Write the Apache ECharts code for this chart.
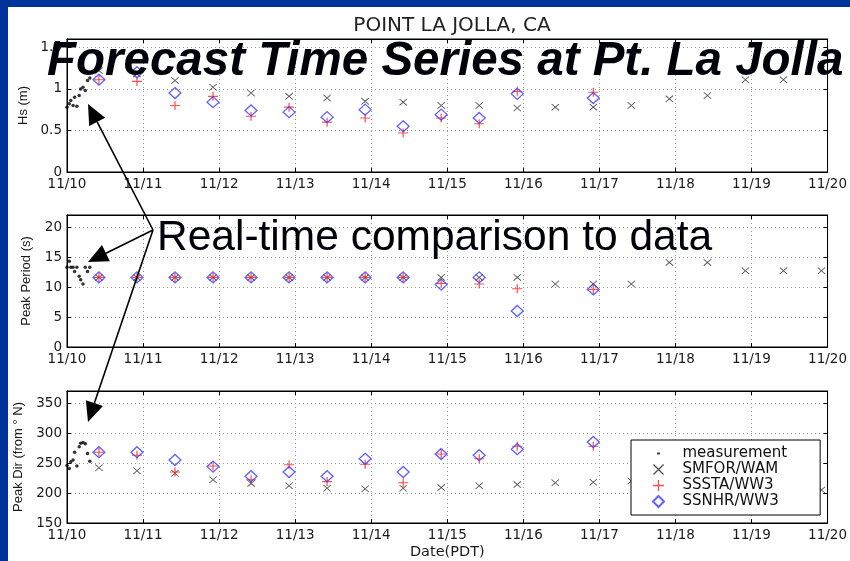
<!DOCTYPE html>
<html><head><meta charset="utf-8">
<script src="https://cdn.jsdelivr.net/npm/echarts@6/dist/echarts.min.js"></script>
<style>html,body{margin:0;padding:0;background:#fff}#c{width:850px;height:561px}</style>
</head><body><div id="c"></div>
<script>
// ---- data ----
const xTickLabels = ['11/10','11/11','11/12','11/13','11/14','11/15','11/16','11/17','11/18','11/19','11/20'];
// days after 11/10 00:00 PDT
const measDays = [0.00,0.03,0.05,0.08,0.10,0.13,0.16,0.18,0.21,0.24,0.27,0.30];
const measHs   = [0.78,0.82,0.86,0.80,0.90,0.79,0.92,1.00,1.02,0.98,1.10,1.13];
const measTp   = [13.3,14.3,13.3,13.3,12.6,13.3,11.8,11.2,10.5,13.3,12.6,13.3];
const measDir  = [246,241,252,255,268,245,277,283,284,282,266,253];

const modelDays = [0.42,0.92,1.42,1.92,2.42,2.92,3.42,3.92,4.42,4.92,5.42,5.92,6.42,6.92,7.42,7.92,8.42,8.92,9.42,9.92];

const smforHs = [1.22,1.18,1.10,1.02,0.95,0.91,0.89,0.85,0.84,0.80,0.80,0.77,0.78,0.78,0.80,0.88,0.92,1.11,1.11,1.30];
const ssstaHs = [1.11,1.09,0.80,0.91,0.67,0.78,0.60,0.65,0.47,0.65,0.58,0.97,null,0.96,null,null,null,null,null,null];
const ssnhrHs = [1.11,1.20,0.95,0.84,0.74,0.72,0.66,0.75,0.55,0.69,0.65,0.94,null,0.89,null,null,null,null,null,null];

const smforTp = [11.6,11.6,11.6,11.6,11.6,11.6,11.6,11.6,11.6,11.6,11.6,11.6,10.5,10.5,10.5,14.1,14.1,12.7,12.7,12.7];
const ssstaTp = [11.6,11.6,11.6,11.6,11.6,11.6,11.6,11.6,11.6,10.6,10.5,9.7,null,9.6,null,null,null,null,null,null];
const ssnhrTp = [11.6,11.6,11.6,11.6,11.6,11.6,11.6,11.6,11.6,10.4,11.6,6.0,null,9.6,null,null,null,null,null,null];

const smforDir = [242,237,233,222,216,212,208,207,208,209,212,214,217,218,220,218,215,210,207,205];
const ssstaDir = [268,263,235,245,222,247,219,248,217,265,257,278,null,278,null,null,null,null,null,null];
const ssnhrDir = [268,268,255,244,228,235,228,257,235,265,263,273,null,285,null,null,null,null,null,null];

const seriesNames = ['measurement','SMFOR/WAM','SSSTA/WW3','SSNHR/WW3'];
const panelNames = ['Hs (m)','Peak Period (s)','Peak Dir (from \u00b0 N)'];

// ---- build ----
const chart = echarts.init(document.getElementById('c'), null, {renderer:'canvas'});
function pts(days, vals){ const o=[]; for(let k=0;k<days.length;k++){ if(vals[k]!=null) o.push([days[k],vals[k]]); } return o; }

const CROSS = 'path://M0,0.8L0.8,0L10,9.2L9.2,10Z M9.2,0L10,0.8L0.8,10L0,9.2Z';
const PLUS  = 'path://M0,4.4L10,4.4L10,5.6L0,5.6Z M4.4,0L5.6,0L5.6,10L4.4,10Z';
const DIAM  = 'path://M5,0L10,5L5,10L0,5Z';
const DOT   = 'path://M0,0L0.05,0L0,0.05Z M20,20L19.95,20L20,19.95Z M7.5,8L12.5,8L12.5,12L7.5,12Z';

const grids = [
  {left:67, top:39, width:762, height:133},
  {left:67, top:215, width:762, height:132},
  {left:67, top:391, width:762, height:132}
];
const yCfg = [
  {min:0, max:1.6, interval:0.5, gap:34},
  {min:0, max:22, interval:5, gap:34},
  {min:150, max:370, interval:50, gap:42}
];
const tickFont = {fontFamily:'DejaVu Sans', fontSize:13.5, color:'#1a1a1a'};
const gridLine = {show:true, lineStyle:{color:'#9a9a9a', type:[1,3], width:1}};

const xAxes = [], yAxes = [];
for (let i=0;i<3;i++){
  xAxes.push({type:'value', gridIndex:i, min:0, max:10, interval:1, position:'bottom',
    axisLine:{show:true, onZero:false, lineStyle:{color:'#000'}},
    axisTick:{show:true, inside:true, length:4, lineStyle:{color:'#000'}},
    axisLabel:Object.assign({margin:5, formatter:v=>xTickLabels[Math.round(v)]}, tickFont),
    splitLine:gridLine,
    name: i===2 ? 'Date(PDT)' : '', nameLocation:'middle', nameGap:22,
    nameTextStyle:{fontFamily:'DejaVu Sans', fontSize:14.5, color:'#1a1a1a'}
  });
  yAxes.push({type:'value', gridIndex:i, min:yCfg[i].min, max:yCfg[i].max, interval:yCfg[i].interval, position:'left',
    axisLine:{show:true, onZero:false, lineStyle:{color:'#000'}},
    axisTick:{show:true, inside:true, length:4, lineStyle:{color:'#000'}},
    axisLabel:Object.assign({margin:5, showMaxLabel:false}, tickFont),
    splitLine:gridLine,
    name:panelNames[i], nameLocation:'middle', nameRotate:90, nameGap:yCfg[i].gap,
    nameTextStyle:{fontFamily:'Liberation Sans', fontSize:13, color:'#1a1a1a'}
  });
}
for (let i=0;i<3;i++){
  xAxes.push({type:'value', gridIndex:i, min:0, max:10, interval:1, position:'top',
    axisLine:{show:true, onZero:false, lineStyle:{color:'#000'}},
    axisTick:{show:true, inside:true, length:4, lineStyle:{color:'#000'}},
    axisLabel:{show:false}, splitLine:{show:false}});
  yAxes.push({type:'value', gridIndex:i, min:yCfg[i].min, max:yCfg[i].max, interval:yCfg[i].interval, position:'right',
    axisLine:{show:true, onZero:false, lineStyle:{color:'#000'}},
    axisTick:{show:true, inside:true, length:4, lineStyle:{color:'#000'}},
    axisLabel:{show:false}, splitLine:{show:false}});
}

const panels = [
  [measHs, smforHs, ssstaHs, ssnhrHs],
  [measTp, smforTp, ssstaTp, ssnhrTp],
  [measDir, smforDir, ssstaDir, ssnhrDir]
];
const series = [];
for (let i=0;i<3;i++){
  const p = panels[i];
  series.push({name:seriesNames[0], type:'scatter', xAxisIndex:i, yAxisIndex:i, data:pts(measDays,p[0]),
    symbol:'circle', symbolSize:3.5, itemStyle:{color:'#000'}, z:2});
  series.push({name:seriesNames[1], type:'scatter', xAxisIndex:i, yAxisIndex:i, data:pts(modelDays,p[1]),
    symbol:CROSS, symbolSize:[8,7], itemStyle:{color:'#222'}, z:3});
  series.push({name:seriesNames[2], type:'scatter', xAxisIndex:i, yAxisIndex:i, data:pts(modelDays,p[2]),
    symbol:PLUS, symbolSize:[10,9], itemStyle:{color:'#ff2020'}, z:4});
  series.push({name:seriesNames[3], type:'scatter', xAxisIndex:i, yAxisIndex:i, data:pts(modelDays,p[3]),
    symbol:DIAM, symbolSize:[12,11], itemStyle:{color:'rgba(255,255,255,0)', borderColor:'#3a3aff', borderWidth:1.3}, z:5});
}

function arrow(ox, oy, tx, ty){
  const dx=tx-ox, dy=ty-oy, L=Math.sqrt(dx*dx+dy*dy), ux=dx/L, uy=dy/L, nx=-uy, ny=ux;
  const bx=tx-ux*20, by=ty-uy*20, w=9;
  return [
    {type:'line', shape:{x1:ox,y1:oy,x2:bx,y2:by}, style:{stroke:'#000', lineWidth:1.6}, z:100},
    {type:'polygon', shape:{points:[[tx,ty],[bx+nx*w,by+ny*w],[bx-nx*w,by-ny*w]]}, style:{fill:'#000'}, z:100}
  ];
}

const graphics = [
  {type:'rect', shape:{x:0,y:0,width:8,height:561}, style:{fill:'#003399'}, z:200},
  {type:'rect', shape:{x:0,y:0,width:850,height:7}, style:{fill:'#003399'}, z:200},
  {type:'text', x:47, y:62, style:{text:'Forecast Time Series at Pt. La Jolla', font:'italic bold 47.5px "Liberation Sans"', fill:'#000008', verticalAlign:'middle'}, z:110},
  {type:'text', x:157, y:238, style:{text:'Real-time comparison to data', font:'42.5px "Liberation Sans"', fill:'#000008', verticalAlign:'middle'}, z:110}
].concat(arrow(153,230,88,104), arrow(153,230,88,262), arrow(153,230,88,422));

chart.setOption({
  animation:false,
  backgroundColor:'#fff',
  title:{text:'POINT LA JOLLA, CA', left:447, top:11, textAlign:'center',
    textStyle:{fontFamily:'DejaVu Sans', fontSize:20, fontWeight:'normal', color:'#222'}},
  grid:grids.map(g=>Object.assign({show:true, borderColor:'#000', borderWidth:1, backgroundColor:'#fff'}, g)),
  xAxis:xAxes, yAxis:yAxes,
  legend:{
    data:[{name:'measurement', icon:DOT}, 'SMFOR/WAM', 'SSSTA/WW3', 'SSNHR/WW3'],
    orient:'vertical', left:631, top:440, itemWidth:38, itemHeight:11, itemGap:1,
    padding:[6,33,6,21], backgroundColor:'#fff', borderColor:'#000', borderWidth:1, borderRadius:0,
    textStyle:{fontFamily:'DejaVu Sans', fontSize:15, color:'#111'},
    selectedMode:false
  },
  series:series,
  graphic:graphics
});
</script></body></html>
